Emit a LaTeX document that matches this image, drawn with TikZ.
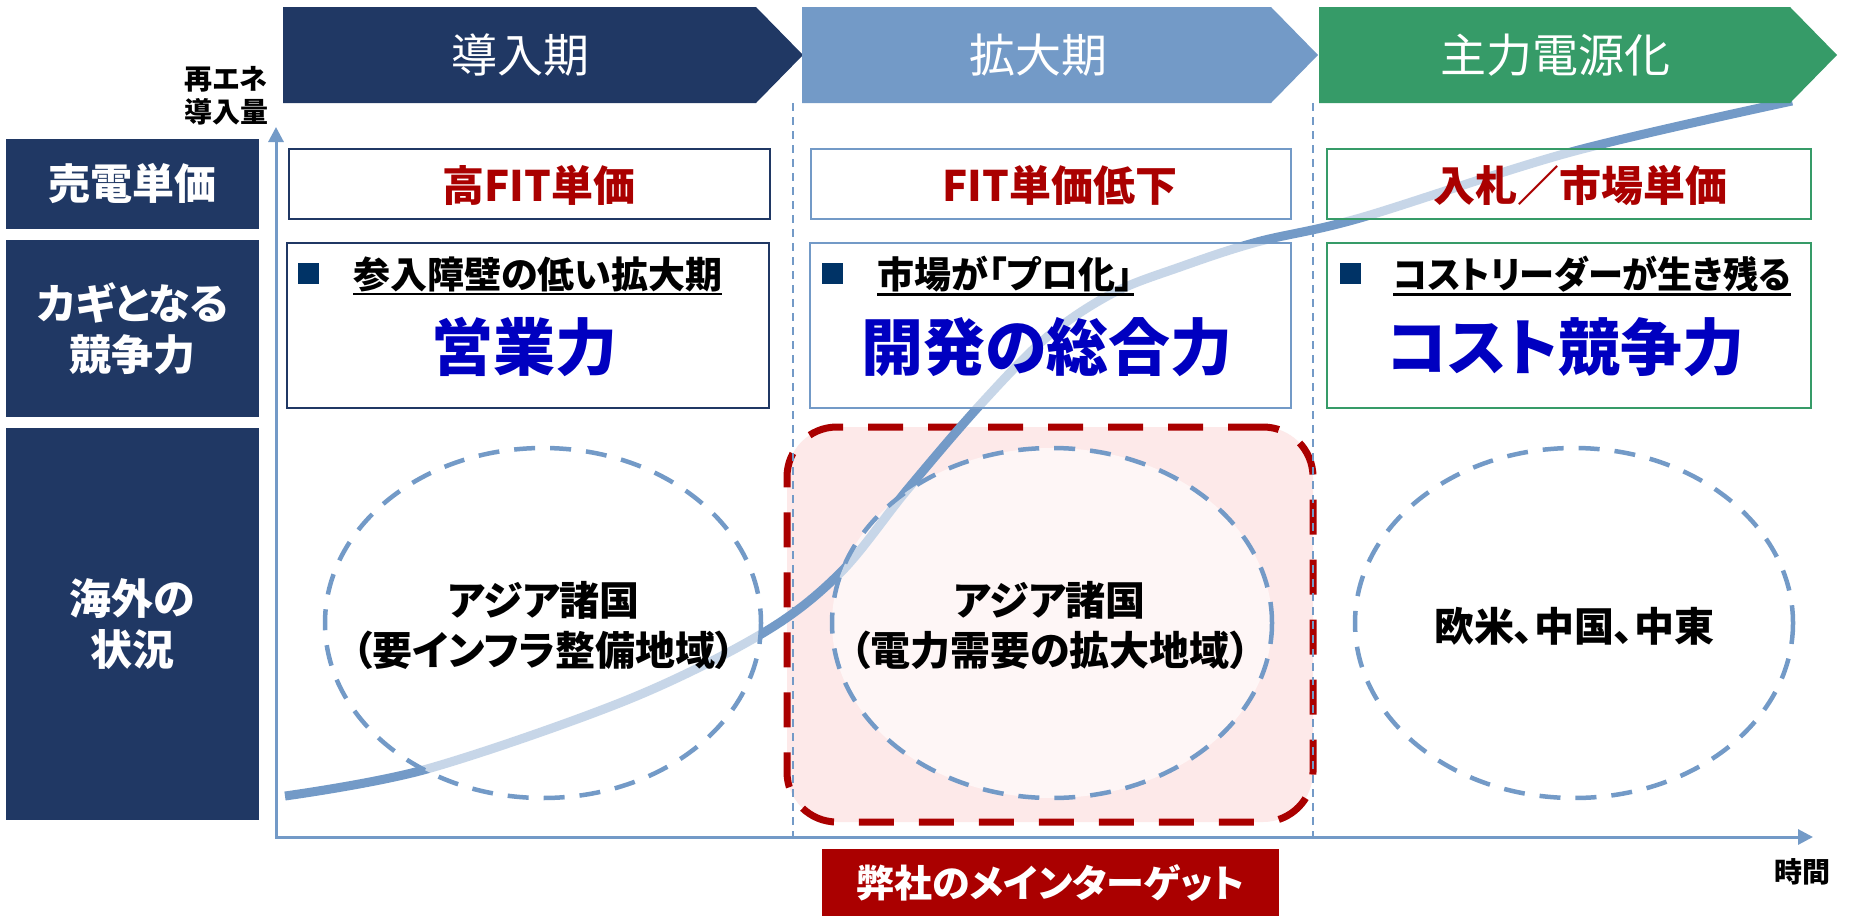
\documentclass[tikz,border=0pt]{standalone}
\usepackage{fontspec}
\usepackage{graphicx}
\usetikzlibrary{arrows.meta}
\setmainfont{Noto Sans CJK JP}
\newfontfamily\jp{Noto Sans CJK JP}[RawFeature=+palt]
\newcommand\fsz[2]{\fontsize{#1}{#2}\selectfont}
\definecolor{navy}{RGB}{32,56,100}
\definecolor{lblue}{RGB}{115,154,199}
\definecolor{grn}{RGB}{54,155,104}
\definecolor{dred}{RGB}{170,0,0}
\definecolor{bul}{RGB}{0,51,102}
\definecolor{bigblue}{RGB}{0,0,192}
\definecolor{pinkfill}{RGB}{253,233,233}
\begin{document}
\begin{tikzpicture}[x=1pt,y=-1pt,
  lab/.style={fill=navy,text=white,font=\jp\bfseries\fsz{42}{51},align=center,inner sep=0pt,minimum width=253pt},
  hdr/.style={text=white,font=\jp\fsz{46}{50},inner sep=0pt},
  pbox/.style={draw=#1,line width=2pt,fill=white,fill opacity=0.6,inner sep=0pt},
  circ/.style={draw=lblue,line width=4.5pt,dash pattern=on 21pt off 15pt,fill=white,fill opacity=0.6},
  sep/.style={draw=lblue,line width=1.5pt,dash pattern=on 8pt off 6pt},
  axis/.style={draw=lblue,line width=3pt,{Triangle[length=15pt,width=15pt]}-{Triangle[length=15pt,width=15pt]}},
  curve/.style={draw=lblue,line width=9pt},
  axlab/.style={font=\jp\bfseries\fsz{28}{33},align=center,inner sep=0pt},
  rowone/.style={font=\jp\bfseries\fsz{42}{50},text=dred,inner sep=0pt},
  bullet/.style={fill=bul,minimum size=21pt,inner sep=0pt},
  sub/.style={font=\jp\bfseries\fsz{37}{44},anchor=west,inner sep=0pt},
  uline/.style={line width=2.5pt},
  big/.style={font=\jp\bfseries\fsz{62}{70},text=bigblue,inner sep=0pt},
  ctext/.style={font=\jp\bfseries\fsz{40}{50},align=center,inner sep=0pt},
  zone/.style={draw=dred,fill=pinkfill,line width=7pt,dash pattern=on 35pt off 25pt,rounded corners=50pt,inner sep=0pt}
]
\fill[white] (0,0) rectangle (1852,916);

% target zone
\node[zone,minimum width=526pt,minimum height=395pt] (zone) at (1050,624.5) {};

% separators
\coordinate (s1t) at (793,103); \coordinate (s1b) at (793,837);
\coordinate (s2t) at (1313,103); \coordinate (s2b) at (1313,837);
\draw[sep] (s1t) -- (s1b);
\draw[sep] (s2t) -- (s2b);

% axes
\coordinate (O) at (276,837);
\coordinate (Ytop) at (276,127);
\coordinate (Xend) at (1813,837);
\draw[axis] (Ytop) -- (O) -- (Xend);

% S-curve
\draw[curve] plot[smooth,tension=0.55] coordinates {(285,796) (427,769) (627,700) (763,633) (840,573) (907,490) (980,405) (1047,337) (1113,293) (1180,267) (1257,242) (1360,218) (1571,152) (1792,101)};

% boxes row 1
\node[pbox=navy,minimum width=481pt,minimum height=70pt] (b11) at (529.5,184) {};
\node[pbox=lblue,minimum width=480pt,minimum height=70pt] (b12) at (1051,184) {};
\node[pbox=grn,minimum width=484pt,minimum height=70pt] (b13) at (1569,184) {};
% boxes row 2
\node[pbox=navy,minimum width=482pt,minimum height=165pt] (b21) at (528,325.5) {};
\node[pbox=lblue,minimum width=481pt,minimum height=165pt] (b22) at (1050.5,325.5) {};
\node[pbox=grn,minimum width=484pt,minimum height=165pt] (b23) at (1569,325.5) {};

% circles
\coordinate (c1) at (543,623);
\coordinate (c2) at (1052,623);
\coordinate (c3) at (1574,623);
\draw[circ] (c1) ellipse [x radius=218, y radius=175];
\draw[circ] (c2) ellipse [x radius=220, y radius=175];
\draw[circ] (c3) ellipse [x radius=219, y radius=175];

% header chevrons
\fill[navy] (283,7) -- (756,7) -- (803,55) -- (756,103) -- (283,103) -- cycle;
\fill[lblue] (802,7) -- (1271,7) -- (1318,55) -- (1271,103) -- (802,103) -- cycle;
\fill[grn] (1319,7) -- (1790,7) -- (1837,55) -- (1790,103) -- (1319,103) -- cycle;
\node[hdr] (h1) at (520,55) {導入期};
\node[hdr] (h2) at (1038,55) {拡大期};
\node[hdr] (h3) at (1555,55) {主力電源化};

% left labels
\node[lab,minimum height=90pt] (l1) at (132.5,184) {売電単価};
\node[lab,minimum height=177pt] (l2) at (132.5,328.5) {カギとなる\\競争力};
\node[lab,minimum height=392pt] (l3) at (132.5,624) {海外の\\状況};

% axis labels
\node[axlab] (yl) at (226,96) {再エネ\\導入量};
\node[axlab] (xl) at (1802,872) {時間};

% row 1 texts
\node[rowone] (t11) at (539,185) {高FIT単価};
\node[rowone] (t12) at (1060,185) {FIT単価低下};
\node[rowone] (t13) at (1580,185) {入札／市場単価};

% row 2 contents
\node[bullet] (q21) at (308.5,273) {};
\node[bullet] (q22) at (832.5,273) {};
\node[bullet] (q23) at (1350,273) {};
\node[sub] (u21) at (353,274) {参入障壁の低い拡大期};
\node[sub] (u22) at (877,274) {市場が「プロ化」};
\node[sub] (u23) at (1393,274) {\scalebox{0.95}[1]{コストリーダーが生き残る}};
\draw[uline] ([yshift=-2pt]u21.south west) -- ([yshift=-2pt]u21.south east);
\draw[uline] ([yshift=-2pt]u22.south west) -- ([yshift=-2pt]u22.south east);
\draw[uline] ([yshift=-2pt]u23.south west) -- ([yshift=-2pt]u23.south east);
\node[big] (g21) at (524,347) {営業力};
\node[big] (g22) at (1047,347) {開発の総合力};
\node[big] (g23) at (1566,347) {コスト競争力};

% circle texts
\node[ctext] (ct1) at (544,625) {アジア諸国\\（要インフラ整備地域）};
\node[ctext] (ct2) at (1050,625) {アジア諸国\\（電力需要の拡大地域）};
\node[ctext] (ct3) at (1574,626) {欧米、中国、中東};

% target label
\node[fill=dred,text=white,font=\jp\bfseries\fsz{38}{44},minimum width=457pt,minimum height=67pt,inner sep=0pt] (tgt) at (1050.5,882.5) {弊社のメインターゲット};
\end{tikzpicture}
\end{document}
